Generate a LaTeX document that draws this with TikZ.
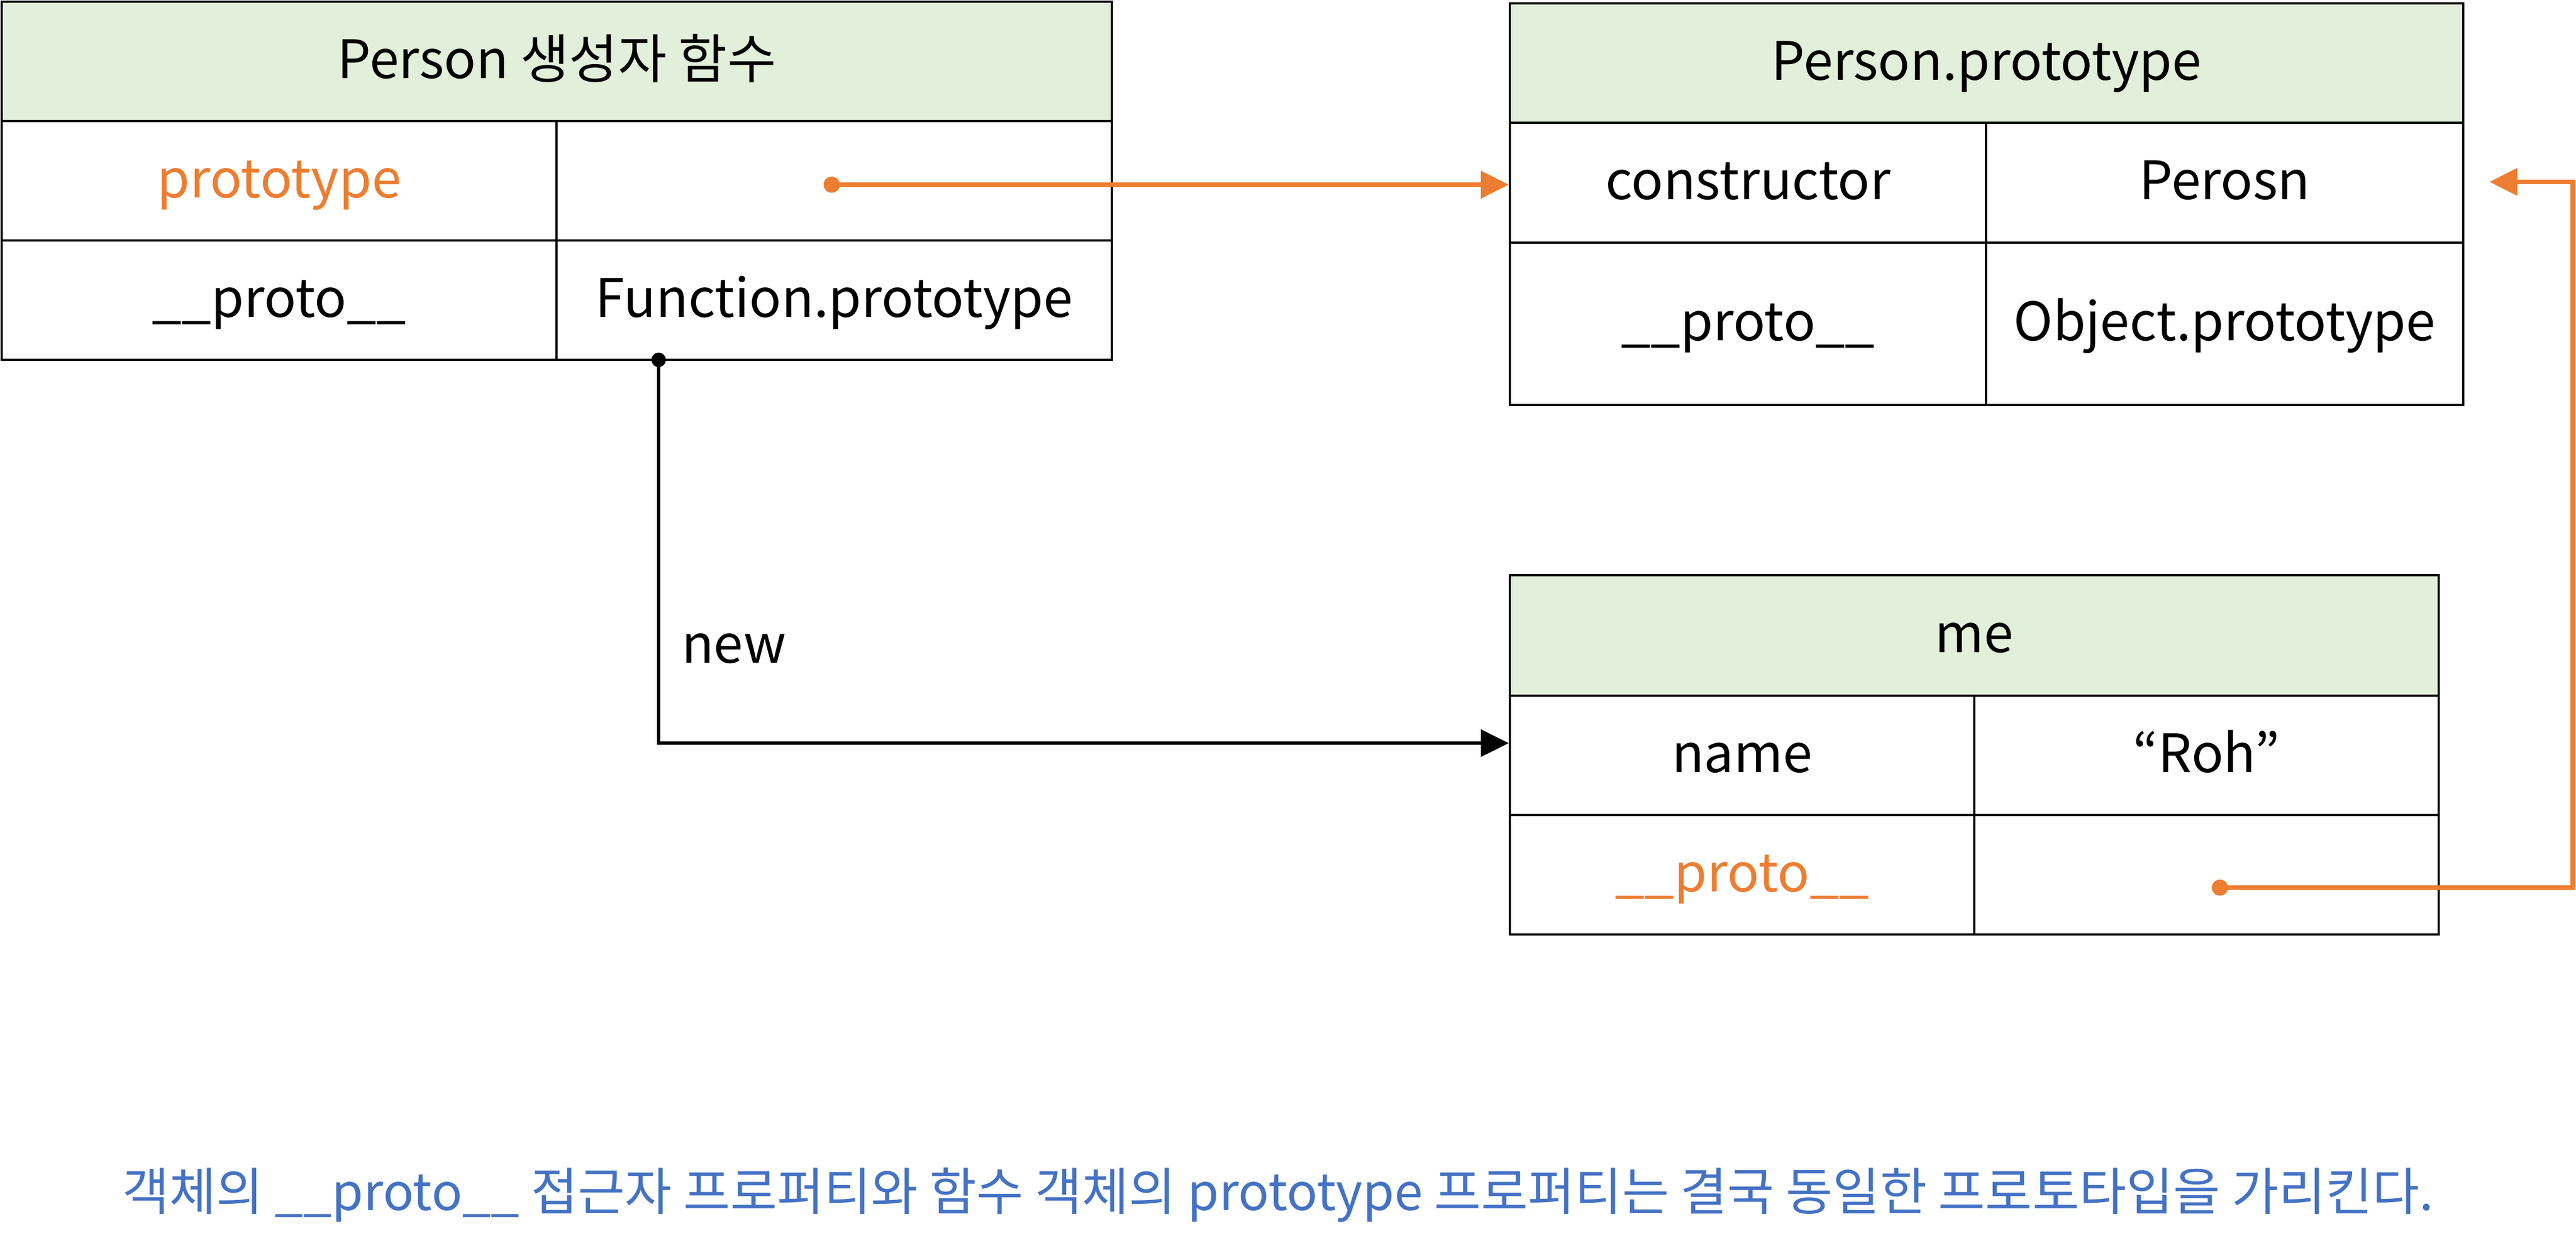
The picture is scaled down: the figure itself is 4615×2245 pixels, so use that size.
\documentclass[tikz,border=0pt]{standalone}
\usepackage{fontspec}
\setmainfont{Noto Sans CJK KR}
\usetikzlibrary{arrows.meta}
\definecolor{hdrgreen}{HTML}{E2EFDA}
\definecolor{orng}{HTML}{ED7D31}
\definecolor{blu}{HTML}{4472C4}
\begin{document}
\begin{tikzpicture}[x=0.2pt,y=-0.2pt,
  txt/.style={font=\fontsize{19}{22}\selectfont, text height=15pt, text depth=3pt},
  cell/.style={draw, line width=0.8pt, inner sep=0pt, anchor=center, txt},
  hdrcell/.style={cell, fill=hdrgreen},
  orline/.style={draw=orng, line width=1.6pt},
  blline/.style={draw=black, line width=1.2pt},
  tipo/.style={-{Triangle[length=10pt,width=9.6pt]}},
]
\useasboundingbox (0,0) rectangle (4615,2245);

% Table 1: Person constructor
\node[hdrcell, minimum width=397.8pt, minimum height=42.8pt] (t1h) at (997.5,110) {Person 생성자 함수};
\node[cell, minimum width=198.8pt, minimum height=42.8pt, text=orng] (t1al) at (500,324) {prototype};
\node[cell, minimum width=199pt, minimum height=42.8pt] (t1ar) at (1494.5,324) {};
\node[cell, minimum width=198.8pt, minimum height=42.8pt] (t1bl) at (500,538) {\_\_proto\_\_};
\node[cell, minimum width=199pt, minimum height=42.8pt] (t1br) at (1494.5,538) {Function.prototype};

% Table 2: Person.prototype
\node[hdrcell, minimum width=341.6pt, minimum height=42.8pt] (t2h) at (3559,113) {Person.prototype};
\node[cell, minimum width=170.6pt, minimum height=43pt] (t2al) at (3131.5,327.5) {constructor};
\node[cell, minimum width=171pt, minimum height=43pt] (t2ar) at (3985.5,327.5) {Perosn};
\node[cell, minimum width=170.6pt, minimum height=58.2pt] (t2bl) at (3131.5,580.5) {\_\_proto\_\_};
\node[cell, minimum width=171pt, minimum height=58.2pt] (t2br) at (3985.5,580.5) {Object.prototype};

% Table 3: me
\node[hdrcell, minimum width=332.8pt, minimum height=43.2pt] (t3h) at (3537,1139) {me};
\node[cell, minimum width=166.4pt, minimum height=42.8pt] (t3al) at (3121,1354) {name};
\node[cell, minimum width=166.4pt, minimum height=42.8pt] (t3ar) at (3953,1354) {“Roh”};
\node[cell, minimum width=166.4pt, minimum height=42.8pt, text=orng] (t3bl) at (3121,1568) {\_\_proto\_\_};
\node[cell, minimum width=166.4pt, minimum height=42.8pt] (t3br) at (3953,1568) {};

% connector coordinates
\coordinate (d1) at (1490,331);
\coordinate (d2) at (1180,645);
\coordinate (b2) at (1180,1332);
\coordinate (d3) at (3977,1591);
\coordinate (c3a) at (4609,1591);
\coordinate (c3b) at (4609,326);
\coordinate (e3) at (4460,326);

% orange: prototype -> Person.prototype
\draw[orline, tipo] (d1) -- (d1 -| t2al.west);
\fill[orng] (d1) circle[radius=14.5];

% black: new -> me
\draw[blline, tipo] (d2) -- (b2) -- (b2 -| t3al.west);
\fill[black] (d2) circle[radius=13];
\node[txt, inner sep=0pt, anchor=west] (newlbl) at (1220,1158) {new};

% orange: me.__proto__ -> Person.prototype
\draw[orline, tipo] (d3) -- (c3a) -- (c3b) -- (e3);
\fill[orng] (d3) circle[radius=14.5];

% caption
\node[text=blu, font=\fontsize{18.3}{21}\selectfont] (cap) at (2290,2142) {객체의 \_\_proto\_\_ 접근자 프로퍼티와 함수 객체의 prototype 프로퍼티는 결국 동일한 프로토타입을 가리킨다.};
\end{tikzpicture}
\end{document}
